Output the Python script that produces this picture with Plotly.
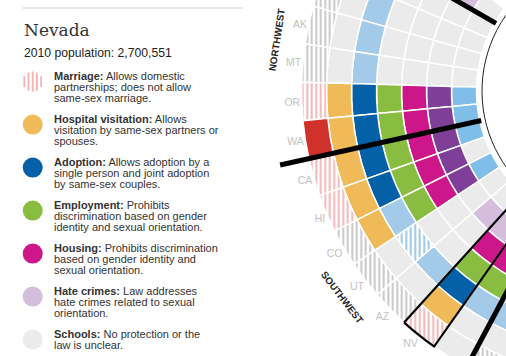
import math
import plotly.graph_objects as go

# ---------------- data ----------------
STATES = ["ND", "WY", "ID", "AK", "MT", "OR", "WA", "CA", "HI", "CO", "UT", "AZ", "NV", "NM", "TX"]
# state labels that are visible in the reference window
LABELED = ["AK", "MT", "OR", "WA", "CA", "HI", "CO", "UT", "AZ", "NV"]
MARRIAGE = ["ban", "ban", "ban", "ban", "ban", "partial", "full", "partial", "partial",
            "ban", "ban", "ban", "partial", "none", "ban"]
HOSPITAL = ["none", "none", "none", "none", "none", "yes", "yes", "yes", "yes",
            "yes", "none", "none", "yes", "none", "none"]
ADOPTION = ["single", "single", "single", "single", "single", "joint", "joint", "joint", "joint",
            "single", "unclear", "single", "joint", "single", "single"]
EMPLOYMENT = ["none", "none", "none", "none", "none", "yes", "yes", "yes", "yes",
              "yes", "none", "none", "yes", "yes", "none"]
HOUSING = ["none", "none", "none", "none", "none", "yes", "yes", "yes", "yes",
           "yes", "none", "none", "yes", "yes", "none"]
HATE = ["orient", "none", "none", "none", "none", "both", "both", "both", "both",
        "both", "none", "orient", "orient", "both", "orient"]
SCHOOLS = ["none", "none", "none", "none", "none", "yes", "yes", "yes", "none",
           "yes", "none", "none", "none", "none", "none"]

REGION_NAMES = ["", "NORTHWEST", "SOUTHWEST", ""]
REGION_SIZES = [1, 6, 7, 1]

SELECTED = "NV"
SELECTED_NAME = "Nevada"
SELECTED_POP = "2010 population: 2,700,551"

LEGEND_KEYS = ["marriage", "hospital", "adoption", "employment", "housing", "hate", "schools"]
LEGEND_LABELS = ["Marriage:", "Hospital visitation:", "Adoption:", "Employment:",
                 "Housing:", "Hate crimes:", "Schools:"]
LEGEND_LINES = [
    ["Allows domestic", "partnerships; does not allow", "same-sex marriage."],
    ["Allows", "visitation by same-sex partners or", "spouses."],
    ["Allows adoption by a", "single person and joint adoption", "by same-sex couples."],
    ["Prohibits", "discrimination based on gender", "identity and sexual orientation."],
    ["Prohibits discrimination", "based on gender identity and", "sexual orientation."],
    ["Law addresses", "hate crimes related to sexual", "orientation."],
    ["No protection or the", "law is unclear."],
]

# ---------------- styles ----------------
GRAY = "#EBEBEB"
STYLES = {
    "marriage": {"full": ("#D0322B", ""), "partial": ("#F3B3B3", "|"),
                 "ban": ("#C4C4C4", "|"), "none": (GRAY, "")},
    "hospital": {"yes": ("#F1BA58", ""), "none": (GRAY, "")},
    "adoption": {"joint": ("#0461A8", ""), "single": ("#A3CAE8", ""),
                 "unclear": ("#96C3E5", "|"), "none": (GRAY, "")},
    "employment": {"yes": ("#88BD42", ""), "none": (GRAY, "")},
    "housing": {"yes": ("#CD168A", ""), "none": (GRAY, "")},
    "hate": {"both": ("#7F3F98", ""), "orient": ("#D5BEDD", ""), "none": (GRAY, "")},
    "schools": {"yes": ("#7FBEE9", ""), "none": (GRAY, "")},
}
RINGS = [("schools", SCHOOLS), ("hate", HATE), ("housing", HOUSING),
         ("employment", EMPLOYMENT), ("adoption", ADOPTION),
         ("hospital", HOSPITAL), ("marriage", MARRIAGE)]   # inner -> outer
DATA_BY_KEY = dict(RINGS)

# ---------------- geometry / layout ----------------
W, H = 620, 590
SHIFT = 150                     # page is scrolled up by this many px
CX, CY = 614, 91 + SHIFT        # polar centre in figure px
SECTOR = [138, 252]
SLOT = 360 / 51
ROT = 146.62
R0, RW = 137.5, 25.0
R_POL = 313.5
R_POL2 = 345.0
R_INNER_LINE = 132
DIV_R = (136, 342)
REGION_LABEL_R = 341
TXT = "#333333"
SANS = "Arial, Liberation Sans, sans-serif"


def sector_bbox(s0, s1):
    arc = s1 - s0
    a0 = s0 % 360
    a1 = a0 + arc
    ax0, ay0 = math.cos(math.radians(a0)), math.sin(math.radians(a0))
    ax1, ay1 = math.cos(math.radians(a1)), math.sin(math.radians(a1))
    if (a0 <= 90 <= a1) or (a0 > 90 and a1 >= 450):
        y1 = 1
    elif ay0 <= 0 and ay1 <= 0:
        y1 = 0
    else:
        y1 = max(ay0, ay1)
    if (a0 <= 180 <= a1) or (a0 > 180 and a1 >= 540):
        x0 = -1
    elif ax0 >= 0 and ax1 >= 0:
        x0 = 0
    else:
        x0 = min(ax0, ax1)
    if (a0 <= 270 <= a1) or (a0 > 270 and a1 >= 630):
        y0 = -1
    elif ay0 >= 0 and ay1 >= 0:
        y0 = 0
    else:
        y0 = min(ay0, ay1)
    if a1 >= 360:
        x1 = 1
    elif ax0 <= 0 and ax1 <= 0:
        x1 = 0
    else:
        x1 = max(ax0, ax1)
    return x0, y0, x1, y1


def polar_domain(radius):
    x0, y0, x1, y1 = sector_bbox(*SECTOR)
    left, right = CX + radius * x0, CX + radius * x1
    top, bottom = CY - radius * y1, CY - radius * y0
    return dict(x=[left / W, right / W], y=[1 - bottom / H, 1 - top / H])


def px(x):
    return x / W


def py(y):
    return 1 - (y + SHIFT) / H


thetas = [i * SLOT for i in range(len(STATES))]
label_vals = [thetas[STATES.index(s)] for s in LABELED]

fig = go.Figure()

# ---- the rings ----
for j, (key, vals) in enumerate(RINGS):
    cols = [STYLES[key][v][0] for v in vals]
    shapes = [STYLES[key][v][1] for v in vals]
    fig.add_trace(go.Barpolar(
        r=[RW] * len(vals), base=[R0 + j * RW] * len(vals), theta=thetas,
        width=[SLOT] * len(vals),
        marker=dict(color=cols, line=dict(color="white", width=1.5),
                    pattern=dict(shape=shapes, fillmode="replace", bgcolor="white",
                                 size=4.5, solidity=0.42)),
        hoverinfo="skip", showlegend=False, subplot="polar"))

# ---- region dividers (drawn in the wider overlay polar) ----
ROUT = R0 + len(RINGS) * RW
bounds = []
acc = 0
for size in REGION_SIZES[:-1]:
    acc += size
    bounds.append((acc - 0.5) * SLOT)
for b in bounds:
    fig.add_trace(go.Scatterpolar(
        r=list(DIV_R), theta=[b, b], mode="lines",
        line=dict(color="black", width=5), hoverinfo="skip",
        showlegend=False, subplot="polar2"))

# ---- selected state outline ----
si = STATES.index(SELECTED)
t0, t1 = (si - 0.5) * SLOT, (si + 0.5) * SLOT
arc = [t0 + (t1 - t0) * k / 8 for k in range(9)]
fig.add_trace(go.Scatterpolar(
    r=[ROUT] * 9 + [R0] * 9 + [ROUT], theta=arc + arc[::-1] + [arc[0]],
    mode="lines", line=dict(color="black", width=2.2), hoverinfo="skip",
    showlegend=False, subplot="polar2"))

# ---- region labels ----
annotations = []
acc = 0
for name, size in zip(REGION_NAMES, REGION_SIZES):
    mid = (acc + size / 2 - 0.5) * SLOT
    acc += size
    if not name:
        continue
    phi = ROT + mid
    x = CX + REGION_LABEL_R * math.cos(math.radians(phi))
    y = CY - REGION_LABEL_R * math.sin(math.radians(phi))
    ang = -(phi + 90)
    ang = (ang + 180) % 360 - 180
    if ang > 90:
        ang -= 180
    elif ang < -90:
        ang += 180
    annotations.append(dict(x=x / W, y=1 - y / H, xref="paper", yref="paper",
                            text="<b>%s</b>" % name, showarrow=False, textangle=ang,
                            font=dict(family=SANS, size=9.8, color="#222"),
                            xanchor="center", yanchor="middle"))

# ---- info panel (left) ----
shapes = [dict(type="line", xref="paper", yref="paper", x0=px(22.7), x1=px(243),
               y0=py(8), y1=py(8), line=dict(color="#E6E6E6", width=2))]
annotations.append(dict(x=px(21.5), y=py(30.3), xref="paper", yref="paper",
                        text=SELECTED_NAME, showarrow=False, xanchor="left", yanchor="middle",
                        font=dict(family="DejaVu Serif", size=17, color="#333")))
annotations.append(dict(x=px(21.5), y=py(53.2), xref="paper", yref="paper",
                        text=SELECTED_POP, showarrow=False, xanchor="left", yanchor="middle",
                        font=dict(family=SANS, size=12.2, color="#222")))

ICON_X, ICON_R = 32.7, 10
ICON_Y0, ICON_STEP = 81.6, 43.0
TEXT_X = 52.4
LINE_H = 10.85
for k, (key, label, lines) in enumerate(zip(LEGEND_KEYS, LEGEND_LABELS, LEGEND_LINES)):
    cy = ICON_Y0 + k * ICON_STEP
    col, pat = STYLES[key][DATA_BY_KEY[key][si]]
    if pat:
        for dx in (-8.4, -4.2, 0.0, 4.2, 8.4):
            half = math.sqrt(max(ICON_R ** 2 - dx ** 2, 0))
            shapes.append(dict(type="line", xref="paper", yref="paper",
                               x0=px(ICON_X + dx), x1=px(ICON_X + dx),
                               y0=py(cy - half), y1=py(cy + half),
                               line=dict(color=col, width=1.8)))
    else:
        shapes.append(dict(type="circle", xref="paper", yref="paper",
                           x0=px(ICON_X - ICON_R), x1=px(ICON_X + ICON_R),
                           y0=py(cy + ICON_R), y1=py(cy - ICON_R),
                           fillcolor=col, line=dict(width=0)))
    for n, line in enumerate(lines):
        txt = ("<b>%s</b> %s" % (label, line)) if n == 0 else line
        annotations.append(dict(x=px(TEXT_X), y=py(cy - 5.3 + n * LINE_H),
                                xref="paper", yref="paper", text=txt, showarrow=False,
                                xanchor="left", yanchor="middle",
                                font=dict(family=SANS, size=11, color=TXT)))

fig.update_layout(
    width=W, height=H, autosize=False,
    margin=dict(l=0, r=0, t=0, b=0, pad=0),
    paper_bgcolor="white", plot_bgcolor="white",
    showlegend=False,
    polar=dict(
        domain=polar_domain(R_POL), sector=SECTOR, bgcolor="rgba(0,0,0,0)", hole=0,
        radialaxis=dict(range=[0, R_POL], tickmode="array", tickvals=[R_INNER_LINE],
                        showticklabels=False, ticks="", showline=False, showgrid=True,
                        gridcolor="#222", gridwidth=1),
        angularaxis=dict(type="linear", thetaunit="degrees", rotation=ROT,
                         direction="counterclockwise", tickmode="array",
                         tickvals=label_vals, ticktext=LABELED, ticks="",
                         showline=False, showgrid=False,
                         tickfont=dict(family=SANS, size=10.5, color="#C2C2C2")),
    ),
    polar2=dict(
        domain=polar_domain(R_POL2), sector=SECTOR, bgcolor="rgba(0,0,0,0)", hole=0,
        radialaxis=dict(range=[0, R_POL2], visible=False),
        angularaxis=dict(type="linear", thetaunit="degrees", rotation=ROT,
                         direction="counterclockwise", visible=False),
    ),
    annotations=annotations,
    shapes=shapes,
)

POST = ("var gd=document.getElementById('{plot_id}');"
        "document.documentElement.style.overflow='hidden';"
        "document.body.style.overflow='hidden';"
        "document.body.style.margin='0';"
        "gd.style.position='relative';gd.style.top='-%dpx';" % SHIFT)

fig.write_html("out.html", config={"displayModeBar": False, "staticPlot": True},
               post_script=POST)
